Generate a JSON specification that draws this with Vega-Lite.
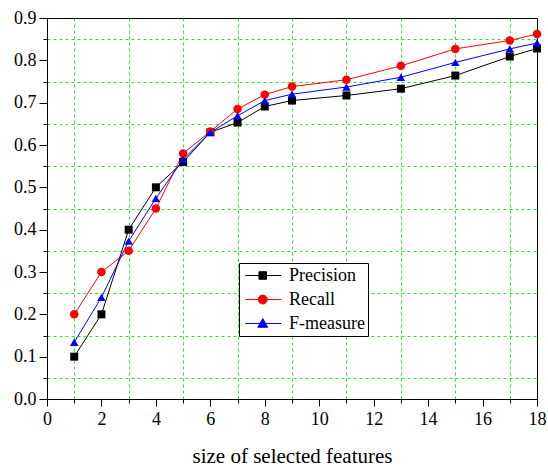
{
  "$schema": "https://vega.github.io/schema/vega-lite/v6.json",
  "width": 490,
  "height": 381,
  "autosize": {"type": "none"},
  "padding": {"left": 47, "top": 18, "right": 11, "bottom": 69},
  "background": "white",
  "config": {
    "view": {"stroke": "black", "strokeWidth": 1},
    "font": "Liberation Serif"
  },
  "data": {
    "values": [
      {"x": 1, "series": "Precision", "v": 0.1},
      {"x": 2, "series": "Precision", "v": 0.2},
      {"x": 3, "series": "Precision", "v": 0.4},
      {"x": 4, "series": "Precision", "v": 0.5},
      {"x": 5, "series": "Precision", "v": 0.56},
      {"x": 6, "series": "Precision", "v": 0.63},
      {"x": 7, "series": "Precision", "v": 0.653},
      {"x": 8, "series": "Precision", "v": 0.691},
      {"x": 9, "series": "Precision", "v": 0.705},
      {"x": 11, "series": "Precision", "v": 0.717},
      {"x": 13, "series": "Precision", "v": 0.733},
      {"x": 15, "series": "Precision", "v": 0.764},
      {"x": 17, "series": "Precision", "v": 0.809},
      {"x": 18, "series": "Precision", "v": 0.828},
      {"x": 1, "series": "Recall", "v": 0.2},
      {"x": 2, "series": "Recall", "v": 0.3},
      {"x": 3, "series": "Recall", "v": 0.35},
      {"x": 4, "series": "Recall", "v": 0.45},
      {"x": 5, "series": "Recall", "v": 0.58},
      {"x": 6, "series": "Recall", "v": 0.632},
      {"x": 7, "series": "Recall", "v": 0.685},
      {"x": 8, "series": "Recall", "v": 0.719},
      {"x": 9, "series": "Recall", "v": 0.738},
      {"x": 11, "series": "Recall", "v": 0.754},
      {"x": 13, "series": "Recall", "v": 0.787},
      {"x": 15, "series": "Recall", "v": 0.827},
      {"x": 17, "series": "Recall", "v": 0.847},
      {"x": 18, "series": "Recall", "v": 0.862},
      {"x": 1, "series": "F-measure", "v": 0.134},
      {"x": 2, "series": "F-measure", "v": 0.24},
      {"x": 3, "series": "F-measure", "v": 0.373},
      {"x": 4, "series": "F-measure", "v": 0.474},
      {"x": 5, "series": "F-measure", "v": 0.566},
      {"x": 6, "series": "F-measure", "v": 0.63},
      {"x": 7, "series": "F-measure", "v": 0.669},
      {"x": 8, "series": "F-measure", "v": 0.705},
      {"x": 9, "series": "F-measure", "v": 0.72},
      {"x": 11, "series": "F-measure", "v": 0.737},
      {"x": 13, "series": "F-measure", "v": 0.76},
      {"x": 15, "series": "F-measure", "v": 0.795},
      {"x": 17, "series": "F-measure", "v": 0.827},
      {"x": 18, "series": "F-measure", "v": 0.841}
    ]
  },
  "encoding": {
    "x": {
      "field": "x",
      "type": "quantitative",
      "scale": {"domain": [0, 18], "nice": false, "zero": false},
      "axis": {
        "title": "size of selected features",
        "titleFont": "Liberation Serif",
        "titleFontSize": 21,
        "titleFontWeight": "normal",
        "titleColor": "black",
        "titlePadding": 17,
        "values": [0,1,2,3,4,5,6,7,8,9,10,11,12,13,14,15,16,17,18],
        "labelExpr": "datum.value % 2 == 0 ? datum.label : ''",
        "labelFont": "Liberation Serif",
        "labelFontSize": 18,
        "labelColor": "black",
        "labelPadding": 4,
        "labelFlush": false,
        "tickColor": "black",
        "tickSize": {"condition": {"test": "datum.value % 2 == 1", "value": 4}, "value": 7},
        "domainColor": "black",
        "grid": true,
        "gridColor": "#33e033",
        "gridDash": [3, 3],
        "gridWidth": 1,
        "gridOpacity": {"condition": {"test": "datum.value % 2 == 1", "value": 1}, "value": 0}
      }
    },
    "y": {
      "field": "v",
      "type": "quantitative",
      "scale": {"domain": [0, 0.9], "nice": false},
      "axis": {
        "title": null,
        "values": [0,0.05,0.1,0.15,0.2,0.25,0.3,0.35,0.4,0.45,0.5,0.55,0.6,0.65,0.7,0.75,0.8,0.85,0.9],
        "format": ".1f",
        "labelExpr": "round(datum.value*20) % 2 == 0 ? datum.label : ''",
        "labelFont": "Liberation Serif",
        "labelFontSize": 18,
        "labelColor": "black",
        "labelPadding": 3,
        "labelFlush": false,
        "tickColor": "black",
        "tickSize": {"condition": {"test": "round(datum.value*20) % 2 == 1", "value": 4}, "value": 8},
        "domainColor": "black",
        "grid": true,
        "gridColor": "#33e033",
        "gridDash": [3, 3],
        "gridWidth": 1,
        "gridOpacity": {"condition": {"test": "round(datum.value*20) % 2 == 1", "value": 1}, "value": 0}
      }
    },
    "color": {
      "field": "series",
      "type": "nominal",
      "scale": {"domain": ["Precision", "Recall", "F-measure"], "range": ["black", "red", "blue"]},
      "legend": {
        "title": null,
        "orient": "none",
        "legendX": 192,
        "legendY": 245,
        "direction": "vertical",
        "labelFont": "Liberation Serif",
        "labelFontSize": 18,
        "labelColor": "black",
        "strokeColor": "black",
        "fillColor": "white",
        "padding": 3,
        "rowPadding": 5,
        "symbolSize": 324,
        "symbolStrokeWidth": 1,
        "labelOffset": 28,
        "encode": {
          "symbols": {
            "update": {
              "shape": {"signal": "datum.value == 'Precision' ? 'M-0.7,0H3.3M0.83,-0.42H1.67V0.42H0.83Z' : datum.value == 'Recall' ? 'M-0.7,0H3.3M0.75,0A0.5,0.5 0 1,0 1.75,0A0.5,0.5 0 1,0 0.75,0Z' : 'M-0.7,0H3.3M0.7,0.42L1.25,-0.55L1.8,0.42Z'"},
              "fill": {"signal": "datum.value == 'Precision' ? 'black' : datum.value == 'Recall' ? 'red' : 'blue'"},
              "stroke": {"signal": "datum.value == 'Precision' ? 'black' : datum.value == 'Recall' ? 'red' : 'blue'"},
              "fillOpacity": {"value": 1},
              "opacity": {"value": 1}
            }
          }
        }
      }
    }
  },
  "layer": [
    {"mark": {"type": "line", "strokeWidth": 1}},
    {
      "transform": [{"filter": "datum.series == 'Precision'"}],
      "mark": {"type": "point", "shape": "square", "filled": true, "opacity": 1, "size": 64}
    },
    {
      "transform": [{"filter": "datum.series == 'Recall'"}],
      "mark": {"type": "point", "shape": "circle", "filled": true, "opacity": 1, "size": 72}
    },
    {
      "transform": [{"filter": "datum.series == 'F-measure'"}],
      "mark": {"type": "point", "shape": "triangle-up", "filled": true, "opacity": 1, "size": 72}
    }
  ]
}
